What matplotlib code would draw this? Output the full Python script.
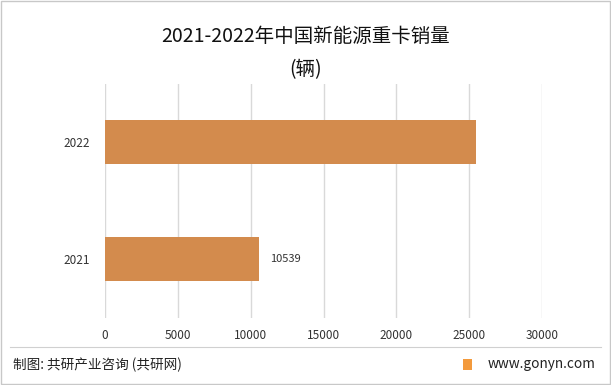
import matplotlib
matplotlib.use("Agg")
import matplotlib.pyplot as plt
from matplotlib.patches import Rectangle
from matplotlib.lines import Line2D

plt.rcParams['font.family'] = ['Noto Sans CJK SC', 'DejaVu Sans']

# data
years  = ['2021', '2022']
sales  = [10539, 25500]
labels = ['10539', '']
xticks = [0, 5000, 10000, 15000, 20000, 25000, 30000]

W, H = 611, 385
fig = plt.figure(figsize=(W / 100, H / 100), dpi=100)

ax = fig.add_axes([105 / W, 67.5 / H, 437 / W, 234 / H])
bars = ax.barh(years, sales, height=0.37, color='#D38B4D', zorder=3)
ax.bar_label(bars, labels=labels, padding=8, fontsize=8, color='#333333')

ax.set_xlim(0, 30000)
ax.set_ylim(-0.5, 1.5)
ax.set_xticks(xticks)
ax.set_xticklabels([str(t) for t in xticks])
ax.tick_params(axis='both', length=0, labelsize=8.5, colors='#333333')
ax.tick_params(axis='x', pad=8)
ax.tick_params(axis='y', pad=11)
ax.grid(True, axis='x', color='#D9D9D9', linewidth=1, zorder=0)
for s in ax.spines.values():
    s.set_visible(False)

# title
fig.text(0.5, 1 - 37 / H, '2021-2022年中国新能源重卡销量', ha='center', va='center',
         fontsize=14, color='#111111')
fig.text(0.5, 1 - 70 / H, '(辆)', ha='center', va='center', fontsize=14, color='#111111')

# frame and footer
fig.add_artist(Rectangle((1 / W, 1 / H), 1 - 2 / W, 1 - 2 / H, transform=fig.transFigure,
                         fill=False, edgecolor='#C8C8C8', linewidth=1))
fig.add_artist(Line2D([10 / W, 601 / W], [1 - 347 / H, 1 - 347 / H], transform=fig.transFigure,
                      color='#D0D0D0', linewidth=0.8))
fig.text(13 / W, 1 - 365 / H, '制图: 共研产业咨询 (共研网)', ha='left', va='center',
         fontsize=9.8, color='#222222')
fig.text(596 / W, 1 - 364 / H, 'www.gonyn.com', ha='right', va='center',
         fontsize=9.8, color='#222222')
fig.add_artist(Rectangle((463 / W, 1 - 370 / H), 9 / W, 11 / H, transform=fig.transFigure,
                         facecolor='#F39A3C', edgecolor='none'))

fig.savefig('out.png', dpi=100)
